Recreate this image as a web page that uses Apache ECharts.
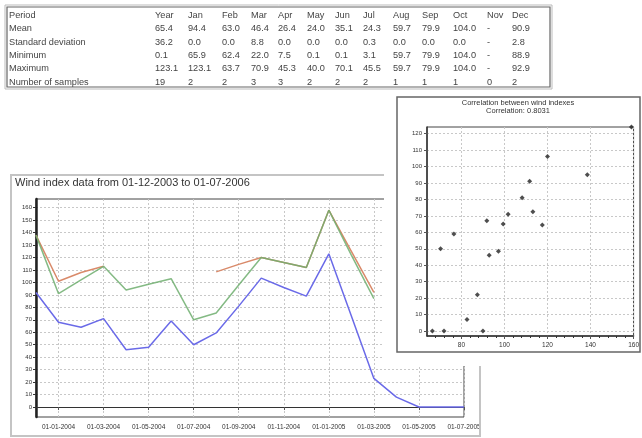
<!DOCTYPE html>
<html><head><meta charset="utf-8">
<script src="https://cdn.jsdelivr.net/npm/echarts@6/dist/echarts.min.js"></script>
<style>html,body{margin:0;padding:0;background:#fff}#c{width:642px;height:438px}</style>
</head><body><div id="c"></div>
<script>
// ---------- data ----------
const months = ['01-12-2003','01-01-2004','01-02-2004','01-03-2004','01-04-2004','01-05-2004','01-06-2004','01-07-2004','01-08-2004','01-09-2004','01-10-2004','01-11-2004','01-12-2004','01-01-2005','01-02-2005','01-03-2005','01-04-2005','01-05-2005','01-06-2005','01-07-2005'];
const blueValues   = [92, 68, 64, 71, 46, 48, 69, 50, 59.5, 81, 103.5, 96, 89, 123, 73, 23, 8, 0, 0, 0];
const greenValues  = [138, 91, 102, 113, 94, 98.5, 103, 70, 75.5, 98, 120, 116, 112, 158, 122, 87, null, null, null, null];
const orangeValues = [138, 101, 108, 113, null, null, null, null, 108.5, 114.5, 120, 116, 112, 158, 125, 92, null, null, null, null];
const lineYTicks = [0,10,20,30,40,50,60,70,80,90,100,110,120,130,140,150,160];

const scatterPoints = [[159,124],[120,106],[138.5,95],[111.7,91],[108.2,81],[101.7,71],[113.2,72.5],[91.8,67],[99.4,65],[117.6,64.5],[76.5,59],[70.3,50],[92.9,46],[97.2,48.5],[87.4,22],[82.6,7],[66.5,0],[71.9,0],[90,0]];
const scatterXTicks = [80,100,120,140,160];
const scatterYTicks = [0,10,20,30,40,50,60,70,80,90,100,110,120];

const tableHeader = ['Period','Year','Jan','Feb','Mar','Apr','May','Jun','Jul','Aug','Sep','Oct','Nov','Dec'];
const tableMean   = ['Mean','65.4','94.4','63.0','46.4','26.4','24.0','35.1','24.3','59.7','79.9','104.0','-','90.9'];
const tableStd    = ['Standard deviation','36.2','0.0','0.0','8.8','0.0','0.0','0.0','0.3','0.0','0.0','0.0','-','2.8'];
const tableMin    = ['Minimum','0.1','65.9','62.4','22.0','7.5','0.1','0.1','3.1','59.7','79.9','104.0','-','88.9'];
const tableMax    = ['Maximum','123.1','123.1','63.7','70.9','45.3','40.0','70.1','45.5','59.7','79.9','104.0','-','92.9'];
const tableCount  = ['Number of samples','19','2','2','3','3','2','2','2','1','1','1','0','2'];

const lineTitle = 'Wind index data from 01-12-2003 to 01-07-2006';
const scatterTitle1 = 'Correlation between wind indexes';
const scatterTitle2 = 'Correlation: 0.8031';

// ---------- layout ----------
const colX = [9,155,188,222,251,278,307,335,363,393,422,453,487,512];
const rowY = [15,28.5,42,55,68.5,82];
const tableRows = [tableHeader, tableMean, tableStd, tableMin, tableMax, tableCount];

const graphics = [];
graphics.push({type:'rect', shape:{x:5,y:5,width:547,height:84}, style:{fill:'none',stroke:'#bbb',lineWidth:1}, z:1});
graphics.push({type:'rect', shape:{x:7,y:7,width:543,height:80}, style:{fill:'none',stroke:'#666',lineWidth:1.2}, z:1});
tableRows.forEach((row, r) => {
  row.forEach((txt, c) => {
    graphics.push({type:'text', x:colX[c], y:rowY[r], style:{text:txt, fill:'#444', font:'9.2px "Liberation Sans", Arial, sans-serif', textVerticalAlign:'middle'}, z:2});
  });
});
// line chart panel
graphics.push({type:'rect', shape:{x:11,y:175,width:469,height:261}, style:{fill:'none',stroke:'#c4c4c4',lineWidth:2}, z:1});
graphics.push({type:'text', x:15, y:183, style:{text:lineTitle, fill:'#333', font:'11px "Liberation Sans", Arial, sans-serif', textVerticalAlign:'middle'}, z:2});
// cover overflow of line chart labels
graphics.push({type:'rect', shape:{x:481,y:360,width:161,height:78}, style:{fill:'#fff'}, z:5});
// scatter panel
graphics.push({type:'rect', shape:{x:384,y:92,width:258,height:274}, style:{fill:'#fff'}, z:10});
graphics.push({type:'rect', shape:{x:397,y:97,width:243,height:255}, style:{fill:'none',stroke:'#666',lineWidth:1.5}, z:11});
graphics.push({type:'text', x:518, y:103, style:{text:scatterTitle1, fill:'#333', font:'7.5px "Liberation Sans", Arial, sans-serif', textAlign:'center', textVerticalAlign:'middle'}, z:25});
graphics.push({type:'text', x:518, y:111, style:{text:scatterTitle2, fill:'#333', font:'7.5px "Liberation Sans", Arial, sans-serif', textAlign:'center', textVerticalAlign:'middle'}, z:25});

const every2 = (i) => i % 2 === 1;
const dash = {type:[2,2], color:'#c8c8c8', width:1};

const option = {
  animation: false,
  backgroundColor: '#fff',
  textStyle: {fontFamily: '"Liberation Sans", Arial, sans-serif'},
  graphic: {elements: graphics},
  grid: [
    {left:36, top:199, width:428, height:218, show:true, borderColor:'#444', borderWidth:1, backgroundColor:'transparent', z:0},
    {left:427, top:127, width:208, height:209, show:true, borderColor:'#444', borderWidth:1, backgroundColor:'transparent', z:20}
  ],
  xAxis: [
    {gridIndex:0, type:'category', data:months, boundaryGap:false,
     axisLine:{lineStyle:{color:'#333', width:1}},
     axisTick:{show:true, interval:every2, length:3, lineStyle:{color:'#555'}},
     axisLabel:{interval:every2, fontSize:6.5, color:'#333', margin:7},
     splitLine:{show:true, interval:every2, lineStyle:dash}},
    {gridIndex:1, type:'value', min:64, max:160, z:21,
     axisLine:{onZero:false, lineStyle:{color:'#333', width:1.5}},
     axisTick:{customValues:scatterXTicks, length:3, lineStyle:{color:'#555'}},
     minorTick:{show:true, splitNumber:5, length:2},
     axisLabel:{customValues:scatterXTicks, fontSize:6.5, color:'#333', margin:6},
     splitLine:{show:true, lineStyle:dash}}
  ],
  yAxis: [
    {gridIndex:0, type:'value', min:-8, max:167,
     axisLine:{show:true, onZero:false, lineStyle:{color:'#222', width:2.5}},
     axisTick:{show:true, customValues:lineYTicks, length:3, lineStyle:{color:'#333'}},
     axisLabel:{customValues:lineYTicks, fontSize:6, color:'#333', margin:4},
     splitLine:{show:true, lineStyle:dash}},
    {gridIndex:1, type:'value', min:-3, max:124, z:21,
     axisLine:{show:true, onZero:false, lineStyle:{color:'#333', width:1.5}},
     axisTick:{show:true, customValues:scatterYTicks, length:3, lineStyle:{color:'#555'}},
     axisLabel:{customValues:scatterYTicks, fontSize:6, color:'#333', margin:5},
     splitLine:{show:true, lineStyle:dash}}
  ],
  series: [
    {type:'line', name:'orange', xAxisIndex:0, yAxisIndex:0, data:orangeValues, symbol:'none', connectNulls:false, lineStyle:{color:'#d98a6a', width:1.5}, z:2},
    {type:'line', name:'green', xAxisIndex:0, yAxisIndex:0, data:greenValues, symbol:'none', connectNulls:false, lineStyle:{color:'#6fae6f', width:1.5, opacity:0.85}, z:3},
    {type:'line', name:'blue', xAxisIndex:0, yAxisIndex:0, data:blueValues, symbol:'none', lineStyle:{color:'#6a6ae8', width:1.5}, z:4},
    {type:'scatter', name:'corr', xAxisIndex:1, yAxisIndex:1, data:scatterPoints, symbol:'diamond', symbolSize:5, itemStyle:{color:'#222'}, z:30}
  ]
};
const chart = echarts.init(document.getElementById('c'), null, {renderer:'canvas'});
chart.setOption(option);
</script>
</body></html>
